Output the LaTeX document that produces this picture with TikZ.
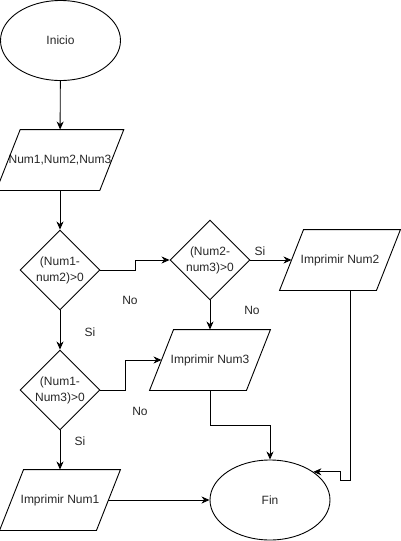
\documentclass[tikz,border=0pt]{standalone}
\usepackage{fontspec}
\setmainfont{Liberation Sans}
\usetikzlibrary{shapes.geometric,arrows.meta}
\definecolor{txtgray}{HTML}{262626}
\begin{document}
\begin{tikzpicture}[x=1pt, y=-1pt,
	every node/.style={text=txtgray, font=\fontsize{12}{16}\selectfont, align=center, inner sep=0pt},
	every path/.style={line width=0.9pt},
	terminal/.style={ellipse, draw, minimum width=120, minimum height=80},
	io/.style={rectangle, minimum width=96, minimum height=60},
	decision/.style={diamond, draw, aspect=1, minimum width=80, minimum height=80},
	arrow/.style={-{Stealth[length=8pt, width=7pt, inset=2.5pt]}}]
		\useasboundingbox (0,0) rectangle (401,541);
		\node[terminal] (n1) at (60.5, 40.5) {Inicio};
		\node[io] (n2) at (60, 160) {Num1,Num2,Num3};
		\node[decision] (n3) at (60, 270) {(Num1-\\num2)>0};
		\node[decision] (n4) at (210, 260) {(Num2-\\num3)>0};
		\node[io] (n5) at (340, 260) {Imprimir Num2};
		\node[io] (n6) at (210, 360) {Imprimir Num3};
		\node[decision] (n7) at (60, 390) {(Num1-\\Num3)>0};
		\node[io] (n8) at (60, 500) {Imprimir Num1};
		\node[terminal] (n9) at (270, 500) {Fin};
		\node (l1) at (130, 300) {No};
		\node (l2) at (90, 332) {Si};
		\node (l3) at (260, 251) {Si};
		\node (l4) at (252, 310) {No};
		\node (l5) at (140, 411) {No};
		\node (l6) at (80, 441) {Si};
		% parallelogram outlines
		\foreach \p in {n2,n5,n6,n8}
			\draw ([xshift=12pt]\p.north west) -- ([xshift=12pt]\p.north east)
				-- ([xshift=-12pt]\p.south east) -- ([xshift=-12pt]\p.south west) -- cycle;
		\path[arrow] (n1) edge (n2);
		\path[arrow] (n2) edge (n3);
		\path[arrow] (n3) edge (n7);
		\path[arrow] (n4) edge (n5);
		\path[arrow] (n4) edge (n6);
		\path[arrow] (n7) edge (n8);
		\path[arrow] (n8) edge (n9);
		\draw[arrow] (n3.east) -- ++(35,0) |- (n4.west);
		\draw[arrow] (n7.east) -- ++(25,0) |- (n6);
		\draw[arrow] (n6.south) -- ++(0,35) -| (n9.north);
		\draw[arrow] ([xshift=10pt]n5.south) -- ++(0,190) -- ++(-10,0) |- (n9.33);
	\end{tikzpicture}
\end{document}
